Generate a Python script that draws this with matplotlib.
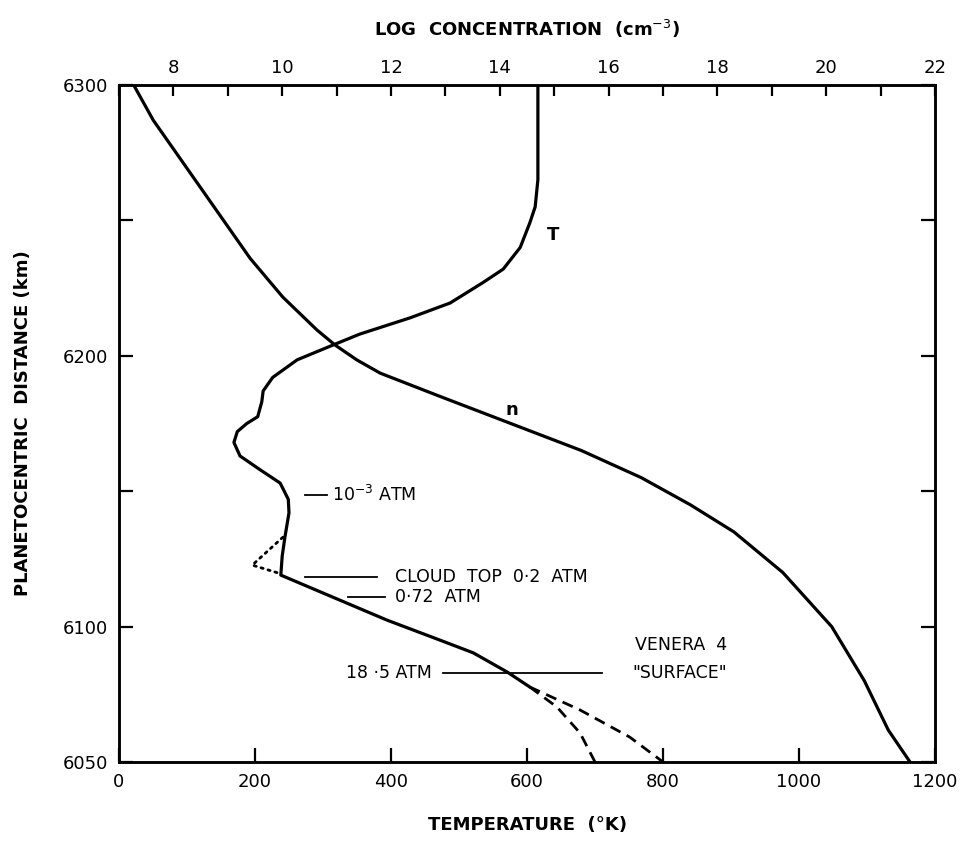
import numpy as np
import matplotlib.pyplot as plt

# temperature profile (K) vs planetocentric distance (km)
t_height = [6300, 6265, 6255, 6249, 6240, 6232, 6227, 6219.5, 6214, 6208, 6204, 6198.5,
            6192, 6187, 6183, 6177.5, 6175, 6172, 6168, 6163, 6158, 6153, 6147, 6142,
            6133, 6126, 6119, 6102.4, 6095, 6090.3, 6083.2, 6077.7]
t_temp = [616, 616, 612, 604, 590, 565, 535, 487, 428, 354, 315, 262,
          226, 212, 210, 204, 188, 174, 169, 178, 207, 237, 249, 250,
          244, 240, 238, 394, 472, 521, 571, 604]

# extrapolations below the Venera 4 "surface"
dash1_height = [6077.7, 6070.3, 6060.7, 6050]
dash1_temp = [604, 644, 678, 700]
dash2_height = [6077.7, 6069.2, 6059.2, 6050]
dash2_temp = [604, 678, 751, 800]

# dotted alternative near cloud top
dot_height = [6133, 6122.7, 6119.8]
dot_temp = [241, 196, 234]

# log number density vs distance
n_height = [6300, 6287, 6236, 6221.7, 6209.5, 6204, 6198.5, 6193.6, 6185, 6175,
            6165, 6155, 6145, 6135, 6120, 6100, 6080, 6061.8, 6050]
n_logc = [7.27, 7.63, 9.41, 10.01, 10.64, 10.97, 11.37, 11.8, 12.9, 14.2,
          15.5, 16.6, 17.5, 18.3, 19.2, 20.1, 20.7, 21.14, 21.54]

plt.rcParams['font.family'] = 'DejaVu Sans'

fig = plt.figure(figsize=(9.61, 8.43), dpi=100)
ax = fig.add_axes([0.1238, 0.0961, 0.8492, 0.8031])
ax2 = ax.twiny()

lw = 2.3
ax.plot(t_temp, t_height, color='black', lw=lw, solid_capstyle='round')
ax.plot(dash1_temp, dash1_height, color='black', lw=2, ls=(0, (4, 2.5)))
ax.plot(dash2_temp, dash2_height, color='black', lw=2, ls=(0, (4, 2.5)))
ax.plot(dot_temp, dot_height, color='black', lw=2, ls=(0, (0.8, 1.8)), dash_capstyle='round')
ax2.plot(n_logc, n_height, color='black', lw=lw)

ax.set_xlim(0, 1200)
ax.set_ylim(6050, 6300)
ax2.set_xlim(7, 22)

ax.set_xticks([0, 200, 400, 600, 800, 1000, 1200])
ax.set_yticks([6050, 6100, 6150, 6200, 6250, 6300])
ax.set_yticklabels(['6050', '6100', '', '6200', '', '6300'])
ax.tick_params(axis='both', direction='in', length=10, width=1.6, labelsize=13,
               right=True, pad=8)
ax2.set_xticks(range(7, 23))
ax2.set_xticklabels(['' if i % 2 else str(i) for i in range(7, 23)])
ax2.tick_params(axis='x', direction='in', length=8, width=1.6, labelsize=13, pad=6)
for a in (ax, ax2):
    for s in a.spines.values():
        s.set_linewidth(1.8)

ax.set_xlabel('TEMPERATURE  (°K)', fontsize=13, fontweight='bold', labelpad=18)
ax.set_ylabel('PLANETOCENTRIC  DISTANCE (km)', fontsize=13, fontweight='bold', labelpad=22)
ax2.set_xlabel('LOG  CONCENTRATION  (cm$^{-3}$)', fontsize=13, fontweight='bold', labelpad=16)

# curve labels
ax.text(638, 6244.6, 'T', fontsize=13, fontweight='bold', ha='center', va='center')
ax.text(578, 6180, 'n', fontsize=13, fontweight='bold', ha='center', va='center')

# pressure annotations
fs = 12.5
ax.plot([274, 306], [6148.6, 6148.6], color='black', lw=1.3)
ax.text(313, 6148.6, '10$^{-3}$ ATM', fontsize=fs, va='center')
ax.plot([274, 379], [6118.3, 6118.3], color='black', lw=1.3)
ax.text(406, 6118.3, 'CLOUD  TOP  0·2  ATM', fontsize=fs, va='center')
ax.plot([337, 391], [6110.9, 6110.9], color='black', lw=1.3)
ax.text(406, 6110.9, '0·72  ATM', fontsize=fs, va='center')
ax.plot([476, 710], [6082.9, 6082.9], color='black', lw=1.3)
ax.text(460, 6082.9, '18 ·5 ATM', fontsize=fs, va='center', ha='right')
ax.text(894, 6093.2, 'VENERA  4', fontsize=fs, va='center', ha='right')
ax.text(894, 6082.9, '"SURFACE"', fontsize=fs, va='center', ha='right')

fig.savefig('out.png', dpi=100)
